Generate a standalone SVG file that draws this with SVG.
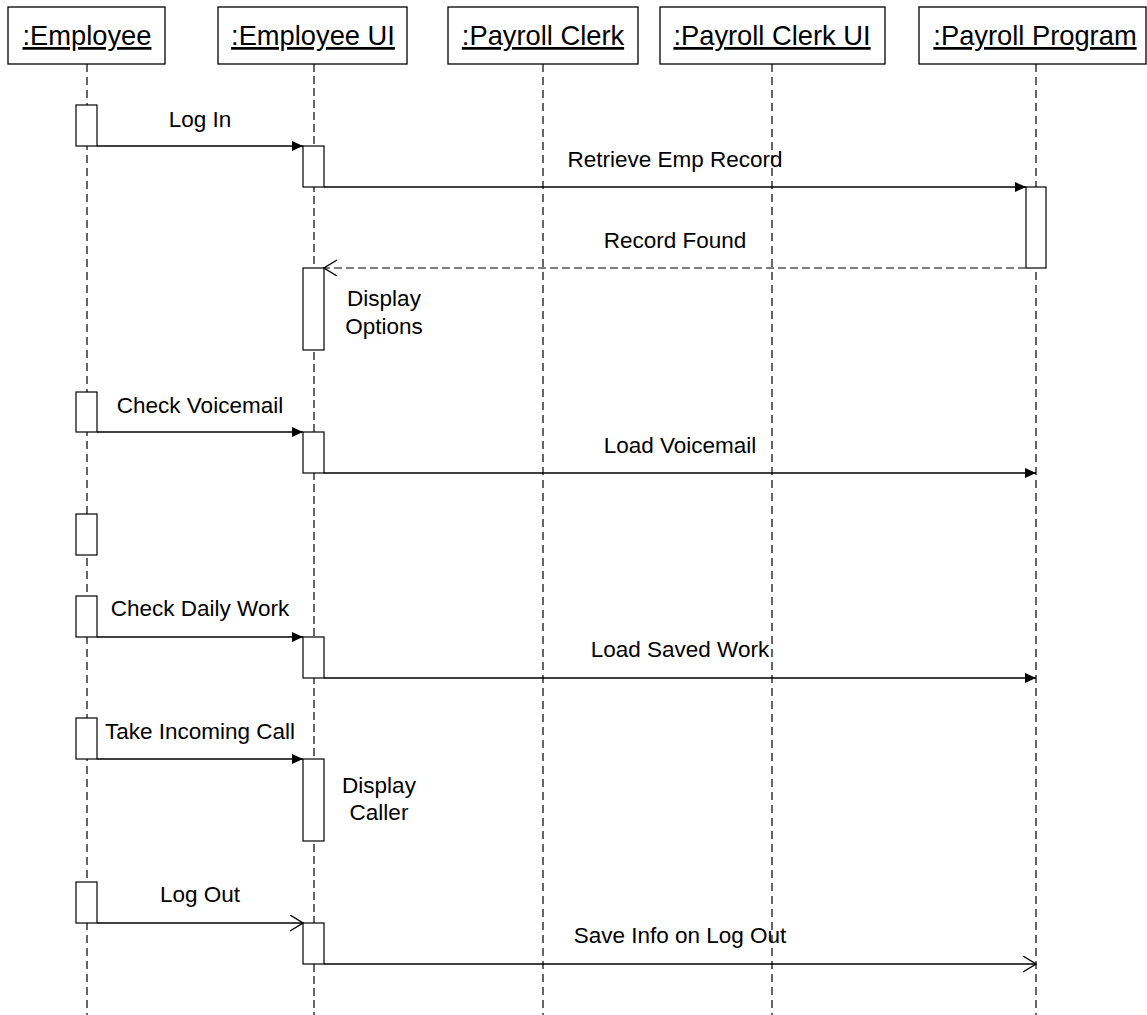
<svg xmlns="http://www.w3.org/2000/svg" width="1147" height="1015" viewBox="0 0 1147 1015">
<style>
.box{fill:#fff;stroke:#000;stroke-width:1.3}
.hdr{font-family:"Liberation Sans",Arial,sans-serif;font-size:27.3px;text-anchor:middle;text-decoration:underline;fill:#000}
.lbl{font-family:"Liberation Sans",Arial,sans-serif;font-size:22.5px;text-anchor:middle;fill:#000}
.life{stroke:#000;stroke-width:1.2;stroke-dasharray:8,5;fill:none}
.life2{stroke:#666;stroke-width:2;stroke-dasharray:8,4;fill:none}
.act{fill:#fff;stroke:#000;stroke-width:1.2}
.msg{stroke:#000;stroke-width:1.3;fill:none}
.ret{stroke:#555;stroke-width:1.3;stroke-dasharray:8,4;fill:none}
</style>
<defs>
<marker id="filled" markerWidth="12" markerHeight="10" refX="11" refY="5" orient="auto" markerUnits="userSpaceOnUse">
<path d="M0,0 L11,5 L0,10 Z" fill="#000"/>
</marker>
<marker id="open" markerWidth="14" markerHeight="18" refX="13" refY="8" orient="auto" markerUnits="userSpaceOnUse">
<path d="M0,0 L13,8 L0,16" fill="none" stroke="#000" stroke-width="1.3"/>
</marker>
</defs>
<rect width="1147" height="1015" fill="#fff"/>
<g id="lifelines">
<line class="life" x1="87" y1="64" x2="87" y2="1015"/>
<line class="life2" x1="314" y1="64" x2="314" y2="1015"/>
<line class="life" x1="543" y1="64" x2="543" y2="1015"/>
<line class="life" x1="772" y1="64" x2="772" y2="1015"/>
<line class="life" x1="1036" y1="64" x2="1036" y2="1015"/>
</g>
<g id="employee"><rect class="box" x="8" y="7" width="157" height="57"/><text class="hdr" x="87" y="45">:Employee</text></g>
<g id="employee-ui"><rect class="box" x="218" y="7" width="189" height="57"/><text class="hdr" x="313" y="45">:Employee UI</text></g>
<g id="payroll-clerk"><rect class="box" x="448" y="7" width="190" height="57"/><text class="hdr" x="543" y="45">:Payroll Clerk</text></g>
<g id="payroll-clerk-ui"><rect class="box" x="660" y="7" width="225" height="57"/><text class="hdr" x="772" y="45">:Payroll Clerk UI</text></g>
<g id="payroll-program"><rect class="box" x="919" y="7" width="227" height="57"/><text class="hdr" x="1035" y="45">:Payroll Program</text></g>
<g id="activations">
<rect class="act" x="76" y="105" width="21" height="41"/>
<rect class="act" x="303" y="146" width="21" height="41"/>
<rect class="act" x="1026" y="187" width="20" height="81"/>
<rect class="act" x="303" y="268" width="21" height="82"/>
<rect class="act" x="76" y="392" width="21" height="40"/>
<rect class="act" x="303" y="432" width="21" height="41"/>
<rect class="act" x="76" y="514" width="21" height="41"/>
<rect class="act" x="76" y="596" width="21" height="41"/>
<rect class="act" x="303" y="637" width="21" height="41"/>
<rect class="act" x="76" y="718" width="21" height="41"/>
<rect class="act" x="303" y="759" width="21" height="82"/>
<rect class="act" x="76" y="882" width="21" height="41"/>
<rect class="act" x="303" y="923" width="21" height="41"/>
</g>
<g id="connectors">
<line class="msg" x1="97" y1="146" x2="303" y2="146" marker-end="url(#filled)"/>
<line class="msg" x1="324" y1="187" x2="1026" y2="187" marker-end="url(#filled)"/>
<line class="ret" x1="1026" y1="268" x2="324" y2="268" marker-end="url(#open)"/>
<line class="msg" x1="97" y1="432" x2="303" y2="432" marker-end="url(#filled)"/>
<line class="msg" x1="324" y1="473" x2="1036" y2="473" marker-end="url(#filled)"/>
<line class="msg" x1="97" y1="637" x2="303" y2="637" marker-end="url(#filled)"/>
<line class="msg" x1="324" y1="678" x2="1036" y2="678" marker-end="url(#filled)"/>
<line class="msg" x1="97" y1="759" x2="303" y2="759" marker-end="url(#filled)"/>
<line class="msg" x1="97" y1="923" x2="303" y2="923" marker-end="url(#open)"/>
<line class="msg" x1="324" y1="964" x2="1036" y2="964" marker-end="url(#open)"/>
</g>
<g id="labels">
<text class="lbl" x="200" y="127">Log In</text>
<text class="lbl" x="675" y="167">Retrieve Emp Record</text>
<text class="lbl" x="675" y="248">Record Found</text>
<text class="lbl" x="384" y="306">Display</text>
<text class="lbl" x="384" y="334">Options</text>
<text class="lbl" x="200" y="413">Check Voicemail</text>
<text class="lbl" x="680" y="453">Load Voicemail</text>
<text class="lbl" x="200" y="616">Check Daily Work</text>
<text class="lbl" x="680" y="657">Load Saved Work</text>
<text class="lbl" x="200" y="739">Take Incoming Call</text>
<text class="lbl" x="379" y="793">Display</text>
<text class="lbl" x="379" y="820">Caller</text>
<text class="lbl" x="200" y="902">Log Out</text>
<text class="lbl" x="680" y="943">Save Info on Log Out</text>
</g>
</svg>
